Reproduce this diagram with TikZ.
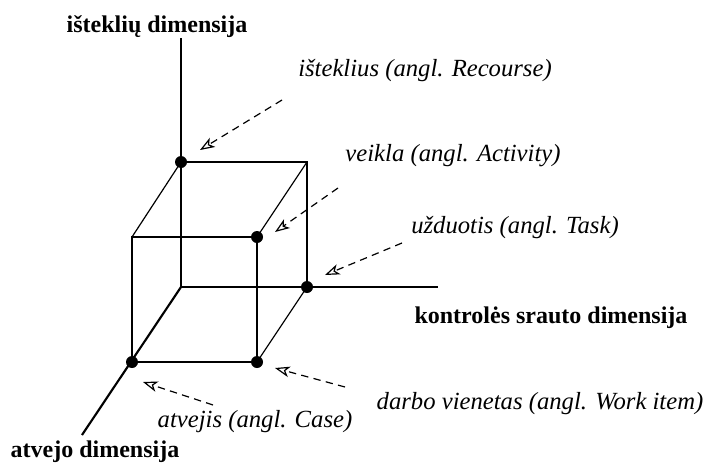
\documentclass[tikz,border=0pt]{standalone}
\usepackage{fontspec}
\setmainfont{Liberation Serif}
\usetikzlibrary{arrows.meta}

\begin{document}
\begin{tikzpicture}[x=0.75pt, y=-0.75pt,
    axis/.style={line width=1.6pt},
    edge/.style={line width=0.9pt},
    dot/.style={circle, fill, inner sep=0pt, minimum size=9pt},
    dimlabel/.style={anchor=base, font=\fontsize{18}{20}\selectfont\bfseries},
    itemlabel/.style={anchor=base, font=\fontsize{18.5}{20}\selectfont\itshape},
    pointer/.style={-{Stealth[open, length=11pt, width=8pt, inset=3pt]}, dash pattern=on 5.5pt off 4pt, line width=0.9pt}
]
\useasboundingbox (0,0) rectangle (706,464);

% cube corners (back face, front face)
\coordinate (b1) at (181,287);
\coordinate (b2) at (181,162);
\coordinate (b3) at (307,162);
\coordinate (b4) at (307,287);
\coordinate (f1) at (132,362);
\coordinate (f2) at (132,237);
\coordinate (f3) at (257,237);
\coordinate (f4) at (257,362);

% axis ends
\coordinate (ytop) at (181,38);
\coordinate (xend) at (438,287);
\coordinate (zend) at (82,435);

\draw[edge] (b2) -- (b3) -- (b4);
\draw[edge] (b2) -- (f2);
\draw[edge] (b3) -- (f3);
\draw[edge] (b4) -- (f4);
\draw[edge] (f1) -- (f2) -- (f3) -- (f4) -- cycle;

\draw[axis] (ytop) -- (b1);
\draw[axis] (b1) -- (xend);
\draw[axis] (b1) -- (zend);

\node[dot] (res)  at (b2) {};
\node[dot] (act)  at (f3) {};
\node[dot] (task) at (b4) {};
\node[dot] (case) at (f1) {};
\node[dot] (work) at (f4) {};

% labels
\node[dimlabel]  (ydim)  at (157,32)  {išteklių dimensija};
\node[dimlabel]  (xdim)  at (551,323) {kontrolės srauto dimensija};
\node[dimlabel]  (zdim)  at (95,457)  {atvejo dimensija};
\node[itemlabel] (resl)  at (425,76)  {išteklius (angl. Recourse)};
\node[itemlabel] (actl)  at (453,161) {veikla (angl. Activity)};
\node[itemlabel] (taskl) at (515,233) {užduotis (angl. Task)};
\node[itemlabel] (workl) at (540,409) {darbo vienetas (angl. Work item)};
\node[itemlabel] (casel) at (255,427) {atvejis (angl. Case)};

% pointers
\coordinate (resfrom)  at (282,100);
\coordinate (resto)    at (200,150);
\coordinate (actfrom)  at (338,188);
\coordinate (actto)    at (275,232);
\coordinate (taskfrom) at (402,243);
\coordinate (taskto)   at (325,275);
\coordinate (workfrom) at (345,387);
\coordinate (workto)   at (275,368);
\coordinate (casefrom) at (213,405);
\coordinate (caseto)   at (143,382);

\draw[pointer] (resfrom) -- (resto);
\draw[pointer] (actfrom) -- (actto);
\draw[pointer] (taskfrom) -- (taskto);
\draw[pointer] (workfrom) -- (workto);
\draw[pointer] (casefrom) -- (caseto);
\end{tikzpicture}
\end{document}
